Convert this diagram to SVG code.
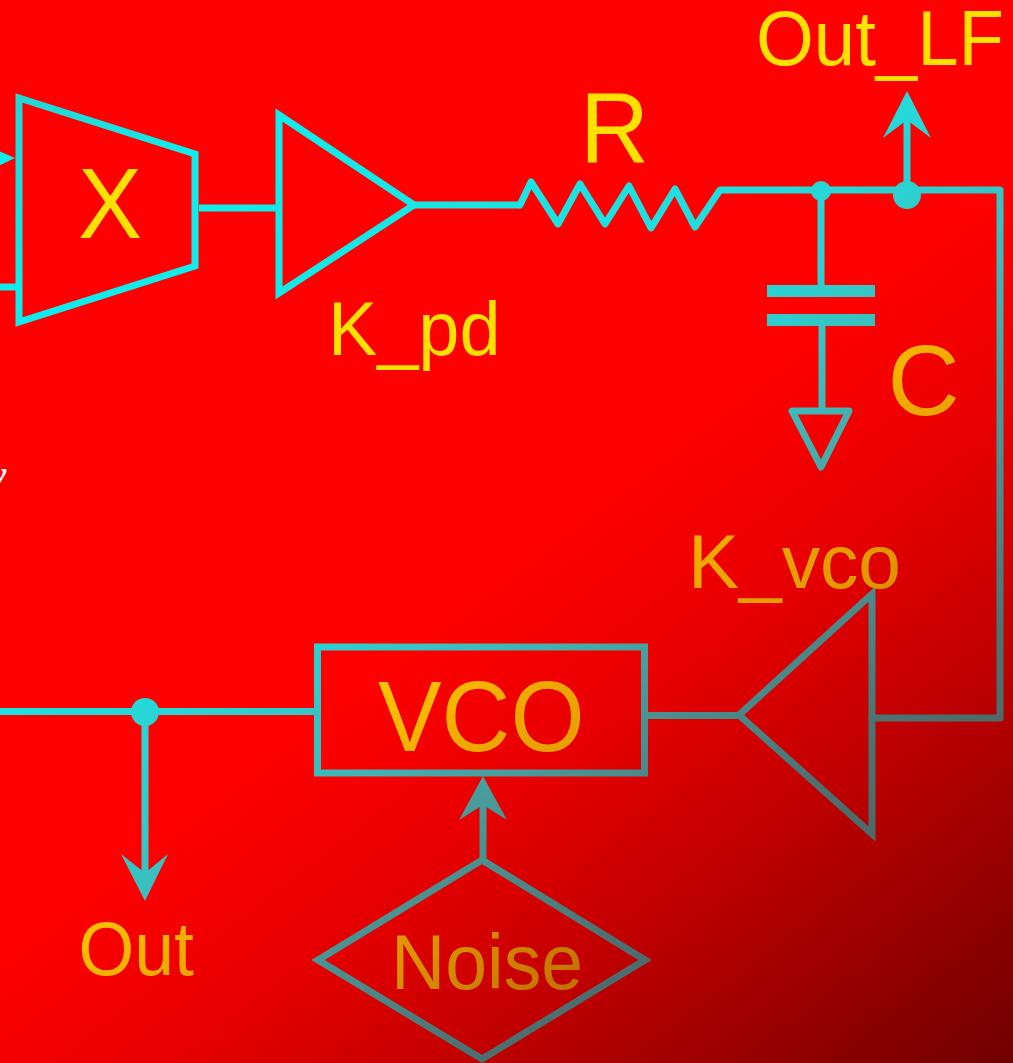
<svg xmlns="http://www.w3.org/2000/svg" width="1013" height="1063" viewBox="0 0 1013 1063">
<defs>
<linearGradient id="bg" gradientUnits="userSpaceOnUse" x1="459" y1="596" x2="890" y2="1156"><stop offset="0" stop-color="#ff0000"/><stop offset="0.259" stop-color="#e80000"/><stop offset="0.48" stop-color="#c80000"/><stop offset="1" stop-color="#700000"/></linearGradient>
<linearGradient id="ln" gradientUnits="userSpaceOnUse" x1="145" y1="188" x2="773" y2="1004"><stop offset="0.05" stop-color="#10ecec"/><stop offset="0.32" stop-color="#1ee0e0"/><stop offset="0.46" stop-color="#2dd0d0"/><stop offset="0.54" stop-color="#3cbebe"/><stop offset="0.615" stop-color="#46aaaa"/><stop offset="0.69" stop-color="#4a9696"/><stop offset="0.85" stop-color="#4c7272"/><stop offset="1" stop-color="#4e6060"/></linearGradient>
<linearGradient id="tr" gradientUnits="userSpaceOnUse" x1="20" y1="100" x2="120" y2="220"><stop offset="0" stop-color="#24d6d6"/><stop offset="1" stop-color="#10ecec"/></linearGradient>
<linearGradient id="tx" gradientUnits="userSpaceOnUse" x1="387" y1="502" x2="687" y2="891"><stop offset="0" stop-color="#ffe100"/><stop offset="0.32" stop-color="#fac000"/><stop offset="0.48" stop-color="#efaa00"/><stop offset="0.73" stop-color="#e09600"/><stop offset="0.81" stop-color="#d78c00"/><stop offset="1" stop-color="#c37300"/></linearGradient>
</defs>
<style>
.s{fill:none;stroke:url(#ln);stroke-width:7}
.r{stroke-linejoin:round;stroke-linecap:round}
.f{fill:url(#ln);stroke:none}
.t{font-family:"Liberation Sans",Arial,sans-serif;fill:url(#tx)}
</style>
<rect width="1013" height="1063" fill="url(#bg)"/>
<text x="-14" y="490" font-family="Liberation Serif,serif" font-style="italic" font-size="46" fill="#ffffff">y</text>
<g id="connectors">
<path class="s" d="M0 287H19M199 208H279M414 205H520"/>
<path class="s r" d="M520 205L531 182L558 224L580 184L605 224L629 186L651 228L675 189L695 227L720 190H1000V718H872"/>
<path class="s" d="M821 191V290M822 322V408M907 195V120M645 715.500H740M0 711.500H317M145 712V875M483 860V800"/>
<polygon class="f" points="-8,148 15,158 -8,169"/>
<polygon class="f" points="907,91 931,138 907,120 883,138"/>
<polygon class="f" points="145,901 168,854 145,873 121,854"/>
<polygon class="f" points="483,776 507,820 483,805 459,820"/>
<circle class="f" cx="821" cy="191" r="10"/>
<circle class="f" cx="907" cy="195" r="14"/>
<circle class="f" cx="145" cy="712" r="14"/>
</g>
<g id="mixer"><polygon fill="none" stroke="url(#tr)" stroke-width="7" points="19,98 195,154 195,266 19,322"/><text class="t" x="78" y="238" font-size="100" textLength="64" lengthAdjust="spacingAndGlyphs">X</text></g>
<g id="k_pd"><polygon class="s" points="279,115 414,205 279,293"/><text class="t" x="328" y="355" font-size="76" textLength="172.500" lengthAdjust="spacingAndGlyphs">K_pd</text></g>
<g id="resistor"><text class="t" x="580" y="163" font-size="100" textLength="69" lengthAdjust="spacingAndGlyphs">R</text></g>
<g id="capacitor"><rect class="f" x="767" y="285" width="108" height="12"/><rect class="f" x="767" y="314" width="108" height="12"/><text class="t" x="887.500" y="415" font-size="100">C</text></g>
<g id="ground"><polygon class="s r" points="792,411 849,411 821,467"/></g>
<g id="out_lf"><text class="t" x="756" y="65" font-size="78" textLength="248" lengthAdjust="spacingAndGlyphs">Out_LF</text></g>
<g id="k_vco"><polygon class="s" points="872,594 739,715 872,834"/><text class="t" x="688" y="588" font-size="76" textLength="213" lengthAdjust="spacingAndGlyphs">K_vco</text></g>
<g id="vco"><rect class="s" x="317.500" y="647" width="327" height="126"/><text class="t" x="378" y="751" font-size="100" textLength="206.500" lengthAdjust="spacingAndGlyphs">VCO</text></g>
<g id="noise"><polygon class="s" points="482,860 645,960 482,1059 318,960"/><text class="t" x="391" y="989" font-size="78" textLength="192" lengthAdjust="spacingAndGlyphs">Noise</text></g>
<g id="out"><text class="t" x="78.500" y="975" font-size="76" textLength="115.500" lengthAdjust="spacingAndGlyphs">Out</text></g>
</svg>
